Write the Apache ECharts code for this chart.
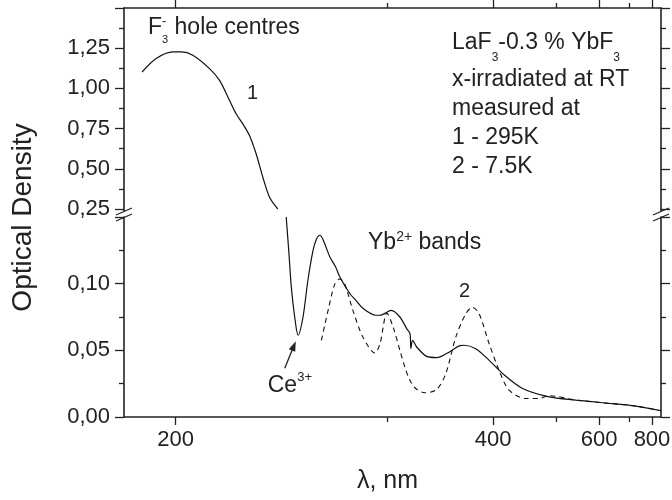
<!DOCTYPE html>
<html><head><meta charset="utf-8">
<script src="https://cdn.jsdelivr.net/npm/echarts@6/dist/echarts.min.js"></script>
<style>html,body{margin:0;padding:0;background:#fff}#c{width:672px;height:500px}</style>
</head><body><div id="c"></div>
<script>
const FONT = "'Liberation Sans', Arial, Helvetica, sans-serif";
const INK = '#222';

// ---- data: wavelength (nm) and optical density ----
// curve 1 (295 K, solid) - part above the axis break
const c1UpperWl = [190.0, 194.1, 199.2, 201.8, 205.6, 211.3, 214.9, 218.6, 221.1, 223.7, 226.4, 229.1, 231.9, 234.8, 238.4];
const c1UpperOD = [1.102, 1.186, 1.227, 1.227, 1.206, 1.123, 1.050, 0.925, 0.842, 0.779, 0.706, 0.592, 0.446, 0.321, 0.250];
// curve 1 (295 K, solid) - part below the axis break
const c1LowerWl = [242.2, 243.5, 244.6, 246.2, 247.8, 250.2, 252.6, 255.2, 257.0, 258.8, 260.4, 264.2, 267.4, 269.8, 275.6, 279.3, 283.9, 292.1, 294.9, 303.0, 309.2, 314.4, 317.0, 317.7, 319.1, 322.4, 330.7, 339.6, 348.9, 362.2, 366.5, 379.2, 395.0, 412.2, 440.8, 485.6, 540.9, 610.5, 726.6, 848.0];
const c1LowerOD = [0.150, 0.122, 0.097, 0.0748, 0.0613, 0.0748, 0.102, 0.1246, 0.1333, 0.1363, 0.1333, 0.120, 0.1125, 0.105, 0.0926, 0.0875, 0.0813, 0.0763, 0.0763, 0.080, 0.075, 0.0663, 0.0626, 0.0513, 0.0575, 0.0525, 0.0455, 0.0446, 0.0476, 0.0535, 0.0538, 0.0512, 0.0425, 0.0326, 0.0214, 0.0151, 0.0127, 0.0107, 0.0082, 0.0047];
// curve 2 (7.5 K, dashed)
const c2Wl = [259.6, 263.2, 266.9, 269.7, 272.6, 277.5, 283.7, 291.5, 294.9, 299.8, 304.2, 309.2, 313.0, 316.9, 321.6, 329.0, 339.4, 348.1, 357.9, 368.3, 375.6, 383.1, 395.0, 407.5, 421.2, 445.9, 467.7, 485.6, 540.9, 610.5, 726.6, 848.0];
const c2OD = [0.0575, 0.0798, 0.0997, 0.1035, 0.0997, 0.0798, 0.0599, 0.048, 0.055, 0.0778, 0.0675, 0.050, 0.0375, 0.0275, 0.0214, 0.0182, 0.0205, 0.0326, 0.0599, 0.0774, 0.0823, 0.0774, 0.055, 0.0351, 0.0201, 0.0139, 0.0139, 0.0160, 0.0127, 0.0107, 0.0082, 0.0047];

// axis ticks
const xMajorWl = [200, 400, 600, 800];
const xMinorWl = [300, 500, 700];
const xRangeWl = [185.0, 848.1];
const yUpper = {min: 0.25, max: 1.5, interval: 0.25};
const yLower = {min: 0, max: 0.15, interval: 0.05};

// x axis is linear in inverse wavelength (1000/nm)
const toX = wl => 1000 / wl;
const pairs = (wl, od) => wl.map((w, i) => [toX(w), od[i]]);

const GL = 124, GR = 11, T0 = 8, H0 = 201, T1 = 217, H1 = 200;
const W = 672;
const TICKFS = 22, ANNFS = 23;

function xAx(grid, pos, ticks, len, withLine, withLabels) {
  return {
    type: 'value', gridIndex: grid, position: pos, inverse: true,
    min: toX(xRangeWl[1]), max: toX(xRangeWl[0]),
    axisLine: {show: withLine, onZero: false, lineStyle: {color: INK, width: 1.6}},
    axisTick: {show: true, customValues: ticks.map(toX), length: len, lineStyle: {color: INK, width: 1.3}},
    axisLabel: withLabels ? {
      show: true, customValues: ticks.map(toX), margin: 12, fontSize: TICKFS, color: INK, fontFamily: FONT,
      formatter: v => String(Math.round(1000 / v))
    } : {show: false},
    splitLine: {show: false}
  };
}
function yAx(grid, pos, r, withLabels) {
  return {
    type: 'value', gridIndex: grid, position: pos, min: r.min, max: r.max, interval: r.interval,
    axisLine: {show: true, onZero: false, lineStyle: {color: INK, width: 1.6}},
    axisTick: {show: true, length: 9, lineStyle: {color: INK, width: 1.3}},
    minorTick: {show: true, splitNumber: 2, length: 5, lineStyle: {color: INK, width: 1.3}},
    axisLabel: withLabels ? {
      show: true, showMaxLabel: false, margin: 14, fontSize: TICKFS, color: INK, fontFamily: FONT,
      formatter: v => v.toFixed(2).replace('.', ',')
    } : {show: false},
    splitLine: {show: false}, minorSplitLine: {show: false}
  };
}

const chart = echarts.init(document.getElementById('c'), null, {renderer: 'canvas'});
const solid = {color: '#111', width: 1.2};
chart.setOption({
  animation: false,
  backgroundColor: '#fff',
  grid: [
    {left: GL, right: GR, top: T0, height: H0, containLabel: false, outerBoundsMode: 'none'},
    {left: GL, right: GR, top: T1, height: H1, containLabel: false, outerBoundsMode: 'none'}
  ],
  xAxis: [
    xAx(0, 'top', xMajorWl, 8, true, false),
    xAx(0, 'top', xMinorWl, 5, false, false),
    xAx(1, 'bottom', xMajorWl, 8, true, true),
    xAx(1, 'bottom', xMinorWl, 5, false, false)
  ],
  yAxis: [
    yAx(0, 'left', yUpper, true),
    yAx(0, 'right', yUpper, false),
    yAx(1, 'left', yLower, true),
    yAx(1, 'right', yLower, false)
  ],
  series: [
    {type: 'line', xAxisIndex: 0, yAxisIndex: 0, data: pairs(c1UpperWl, c1UpperOD), smooth: 0.3,
     showSymbol: false, lineStyle: solid, silent: true},
    {type: 'line', xAxisIndex: 2, yAxisIndex: 2, data: pairs(c1LowerWl, c1LowerOD), smooth: 0.3,
     showSymbol: false, lineStyle: solid, silent: true},
    {type: 'line', xAxisIndex: 2, yAxisIndex: 2, data: pairs(c2Wl, c2OD), smooth: 0.3,
     showSymbol: false, lineStyle: {color: '#111', width: 1.1, type: [5, 4]}, silent: true}
  ]
});

// ---- annotations ----
const mctx = document.createElement('canvas').getContext('2d');
function tw(t, s) { mctx.font = s + 'px ' + FONT; return mctx.measureText(t).width; }
function label(x, base, pieces) {
  const out = []; let cx = x;
  for (const p of pieces) {
    const [t, s, db = 0, adv = true] = p;
    out.push({type: 'text', silent: true, x: cx, y: base + db - 0.3465 * s,
      style: {text: t, x: 0, y: 0, fontSize: s, fontFamily: FONT, fill: INK, align: 'left', verticalAlign: 'middle'}});
    if (adv) cx += tw(t, s);
  }
  return out;
}
const g = [];
g.push(...label(148, 36, [['F', ANNFS], ['-', 13, -9.8, false], ['3', 11, 7.5], [' hole centres', ANNFS]]));
g.push(...label(247, 100, [['1', 20]]));
g.push(...label(452, 51, [['LaF', ANNFS], ['3', 12, 10.5], ['-0.3 % YbF', ANNFS], ['3', 12, 10.5]]));
g.push(...label(452, 88, [['x-irradiated at RT', ANNFS]]));
g.push(...label(452, 117, [['measured at', ANNFS]]));
g.push(...label(452, 146, [['1 - 295K', ANNFS]]));
g.push(...label(452, 175, [['2 - 7.5K', ANNFS]]));
g.push(...label(368, 251, [['Yb', ANNFS], ['2+', 14, -9], [' bands', ANNFS]]));
g.push(...label(459, 298, [['2', 20]]));

// Ce3+ arrow pointing to the minimum of curve 1
let mi = 0;
c1LowerWl.forEach((w, i) => { if (w < 256 && c1LowerOD[i] < c1LowerOD[mi]) mi = i; });
const mp = chart.convertToPixel({seriesIndex: 1}, [toX(c1LowerWl[mi]), c1LowerOD[mi]]);
const tip = [mp[0] - 2.3, mp[1] + 6];
const tail = [tip[0] - 11, tip[1] + 27];
const dx = tip[0] - tail[0], dy = tip[1] - tail[1], L = Math.hypot(dx, dy);
const u = [dx / L, dy / L], n = [-u[1], u[0]];
g.push({type: 'line', silent: true, shape: {x1: tail[0], y1: tail[1], x2: tip[0] - 6 * u[0], y2: tip[1] - 6 * u[1]},
  style: {stroke: INK, lineWidth: 1.3}});
g.push({type: 'polygon', silent: true, shape: {points: [
  tip, [tip[0] - 10 * u[0] + 3.5 * n[0], tip[1] - 10 * u[1] + 3.5 * n[1]],
  [tip[0] - 10 * u[0] - 3.5 * n[0], tip[1] - 10 * u[1] - 3.5 * n[1]]]}, style: {fill: INK}});
g.push(...label(tip[0] - 28, tip[1] + 52, [['Ce', ANNFS], ['3+', 13, -11]]));

// axis titles
g.push({type: 'text', silent: true, x: 23.5, y: 217.5, rotation: Math.PI / 2,
  style: {text: 'Optical Density', x: 0, y: 0, fontSize: 28, fontFamily: FONT, fill: INK, align: 'center', verticalAlign: 'middle'}});
g.push({type: 'text', silent: true, x: 387.5, y: 481.5,
  style: {text: 'λ, nm', x: 0, y: 0, fontSize: 25, fontFamily: FONT, fill: INK, align: 'center', verticalAlign: 'middle'}});

// axis break marks on both vertical axes
const yA = T0 + H0 + 2.5, yB = T1 + 0.5;
for (const ax of [GL, W - GR]) {
  g.push({type: 'line', silent: true, shape: {x1: ax, y1: T0 + H0, x2: ax, y2: yA}, style: {stroke: INK, lineWidth: 1.6}});
  for (const yy of [yA, yB]) {
    g.push({type: 'line', silent: true, shape: {x1: ax - 8, y1: yy + 3.5, x2: ax + 8, y2: yy - 3.5},
      style: {stroke: INK, lineWidth: 1.3}});
  }
}
chart.setOption({graphic: g});
</script>
</body></html>
